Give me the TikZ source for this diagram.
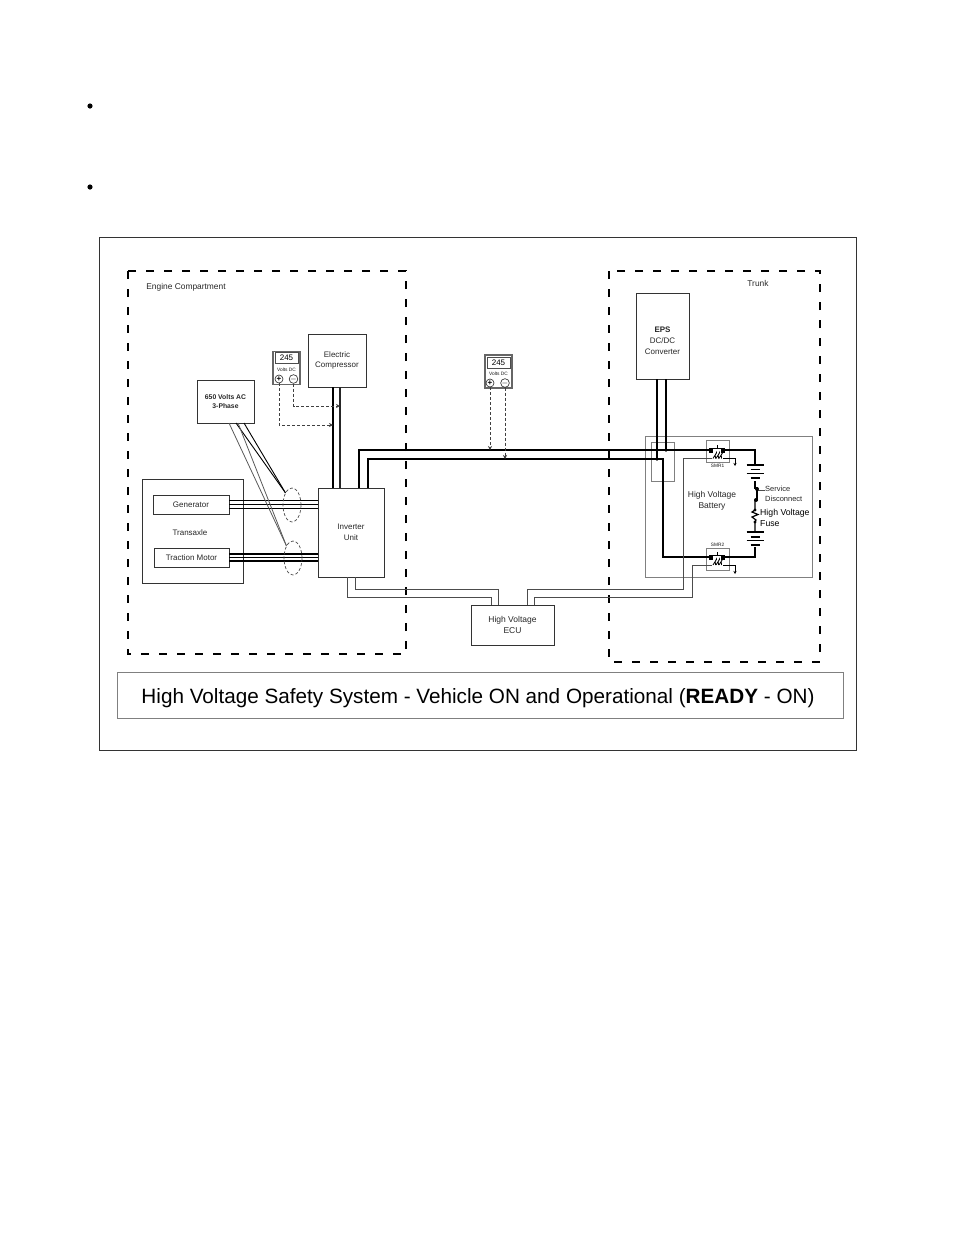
\documentclass[tikz,border=0pt]{standalone}
\usepackage{fontspec}
\setmainfont{Liberation Sans}
\usetikzlibrary{arrows.meta, shapes.geometric}
\tikzset{
    unitbox/.style = {draw = black!80, line width = 0.9pt, inner sep = 0pt, align = center, font = \fontsize{8}{10.8}\selectfont, text = black!85},
    greybox/.style = {draw = black!50, line width = 0.9pt, inner sep = 0pt},
    zone/.style = {draw = black, line width = 2pt, dash pattern = on 8pt off 10pt},
    hvwire/.style = {line width = 2pt, black},
    thinwire/.style = {line width = 0.9pt, black!70},
    probe/.style = {line width = 0.8pt, black!75, densely dashed, -{Stealth[length = 4pt, width = 4pt]}},
    lbl/.style = {inner sep = 0pt, font = \fontsize{8.4}{10}\selectfont, text = black!85},
    tiny/.style = {inner sep = 0pt, font = \fontsize{4.8}{5}\selectfont, text = black!90},
    meterbox/.style = {draw = black!60, line width = 1.2pt, fill = white, inner sep = 0pt, minimum width = 27pt, minimum height = 33pt},
    reading/.style = {draw = black!70, line width = 0.7pt, minimum width = 23pt, minimum height = 11pt, inner sep = 0pt, font = \fontsize{8}{8}\selectfont},
    terminal/.style = {draw = black!85, circle, line width = 0.6pt, minimum size = 8pt, inner sep = 0pt, font = \bfseries\fontsize{8}{8}\selectfont},
    ring/.style = {draw = black!70, densely dashed, line width = 0.7pt, ellipse, minimum width = 18pt, minimum height = 34pt, inner sep = 0pt}
}
\begin{document}
\begin{tikzpicture}[x = 1pt, y = -1pt]
    \useasboundingbox (0, 0) rectangle (954, 1235);
    % bullets
    \fill[black] (90, 106) circle [radius = 2.6];
    \fill[black] (90, 187) circle [radius = 2.6];
    \draw[line width = 0.9pt, black!80] (99, 237) rectangle (856, 750);
    % zones
    \draw[zone] (128, 271) rectangle (406, 654);
    \draw[zone] (609, 271) rectangle (820, 662);
    \node[lbl] (enginelbl) at (186, 287) {Engine Compartment};
    \node[lbl] (trunklbl) at (758, 283) {Trunk};
    % boxes
    \node[unitbox, minimum width = 53pt, minimum height = 86pt] (eps) at (662.5, 336) {};
    \node[lbl, align = center, font = \fontsize{8}{11}\selectfont] (epslbl) at (662.5, 341) {\textbf{EPS}\\DC/DC\\Converter};
    \node[unitbox, minimum width = 58pt, minimum height = 53pt] (compressor) at (337, 360.5) {Electric\\Compressor};
    \node[unitbox, minimum width = 57pt, minimum height = 43pt, font = \bfseries\fontsize{6.8}{9.5}\selectfont] (phase) at (225.5, 401.5) {650 Volts AC\\3-Phase};
    \node[unitbox, minimum width = 101pt, minimum height = 104pt] (transaxle) at (192.5, 531) {};
    \node[lbl, font = \fontsize{8}{10}\selectfont] (transaxlelbl) at (190, 533) {Transaxle};
    \node[unitbox, minimum width = 76pt, minimum height = 19pt] (generator) at (191, 504.5) {Generator};
    \node[unitbox, minimum width = 75pt, minimum height = 19pt] (traction) at (191.5, 557.5) {Traction Motor};
    \node[unitbox, minimum width = 66pt, minimum height = 89pt] (inverter) at (351, 532.5) {Inverter\\Unit};
    \node[unitbox, minimum width = 83pt, minimum height = 40pt, font = \fontsize{8.5}{11}\selectfont] (ecu) at (512.5, 625) {High Voltage\\ECU};
    % battery boxes
    \node[greybox, minimum width = 167pt, minimum height = 141pt] (battery) at (728.5, 506.5) {};
    \node[greybox, minimum width = 23pt, minimum height = 39pt] (junction) at (662.5, 461.5) {};
    \node[greybox, minimum width = 23pt, minimum height = 22pt] (smra) at (717.5, 451) {};
    \node[greybox, minimum width = 23pt, minimum height = 22pt] (smrb) at (717.5, 559) {};
    \node[tiny] (smralbl) at (717.5, 465.5) {SMR1};
    \node[tiny] (smrblbl) at (717.5, 545) {SMR2};
    \node[lbl, align = center, font = \fontsize{8.5}{11.5}\selectfont] (batterylbl) at (712, 501) {High Voltage\\Battery};
    \node[lbl, align = left, anchor = west, font = \fontsize{7.5}{10}\selectfont] (servicelbl) at (765, 494) {Service\\Disconnect};
    \node[lbl, align = left, anchor = west, font = \fontsize{8.7}{10.5}\selectfont, text = black] (fuselbl) at (760, 518) {High Voltage\\Fuse};
    % title
    \node[draw = black!50, line width = 0.9pt, minimum width = 726pt, minimum height = 46pt, inner sep = 0pt, text height = 17pt, text depth = 0pt, font = \fontsize{20.7}{24}\selectfont, text = black] (title) at (480, 695) {High Voltage Safety System - Vehicle ON and Operational (\textbf{READY} - ON)\hspace*{4pt}};
    % named ends of the wires
    \coordinate (compa) at (333, 387);
    \coordinate (compb) at (340, 387);
    \coordinate (inva) at (333, 488);
    \coordinate (invb) at (340, 488);
    \coordinate (busa) at (359, 488);
    \coordinate (busb) at (368, 488);
    \coordinate (epsa) at (657, 379);
    \coordinate (epsb) at (666, 379);
    \coordinate (smraleft) at (711, 450);
    \coordinate (smraright) at (723, 450);
    \coordinate (smrbleft) at (711, 557);
    \coordinate (smrbright) at (723, 557);
    % high voltage wires
    \draw[hvwire] (compa) -- (inva);
    \draw[line width = 1.2pt, black!85] (compb) -- (invb);
    \draw[hvwire, line width = 1.7pt] (busa) -- (359, 450) -- (smraleft);
    \draw[hvwire] (busb) -- (368, 459) -- (663, 459) -- (663, 557) -- (smrbleft);
    \draw[hvwire, line width = 1.7pt] (epsa) -- (657, 459);
    \draw[hvwire, line width = 1.7pt] (epsb) -- (666, 450);
    \fill (657, 459) circle [radius = 1.8];
    \fill (666, 450) circle [radius = 1.8];
    % phase wires, inverter to the motors
    \foreach \d/\w in {4/1.4, 0/1, -4/1.4} {
        \draw[black, line width = \w pt] ([yshift = \d pt]generator.east) -- ([yshift = \d pt]generator.east -| inverter.west);
    }
    \foreach \d/\w in {3.5/1.7, 0/1, -3.5/1.4} {
        \draw[black, line width = \w pt] ([yshift = \d pt]traction.east) -- ([yshift = \d pt]traction.east -| inverter.west);
    }
    \node[ring] (ringa) at (292, 505) {};
    \node[ring] (ringb) at (293, 558) {};
    % pointers from the 650 volt box
    \draw[black, line width = 0.9pt] (236, 423) -- (ringa.north west);
    \draw[black, line width = 0.9pt] (244, 423) -- (ringa.north west);
    \draw[black!65, line width = 0.8pt] (229, 423) -- (ringb.north west);
    \draw[black!65, line width = 0.8pt] (238, 423) -- (ringb.north west);
    % ECU lines
    \draw[thinwire] (347, 577) -- (347, 597) -- (491, 597) -- (491, 605);
    \draw[thinwire] (355, 577) -- (355, 589) -- (498, 589) -- (498, 605);
    \draw[thinwire] (527, 605) -- (527, 589) -- (683, 589) -- (683, 458) -- (712, 458);
    \draw[thinwire] (534, 605) -- (534, 597) -- (692, 597) -- (692, 565) -- (712, 565);
    \draw[thinwire, black, -{Stealth[length = 3pt, width = 3pt]}] (723, 458) -- (735, 458) -- (735, 466);
    \draw[thinwire, black, -{Stealth[length = 3pt, width = 3pt]}] (723, 565) -- (735, 565) -- (735, 574);
    % meters
    \node[meterbox] (metera) at (286.5, 368) {};
    \node[reading] (readinga) at (286.5, 358) {245};
    \node[tiny] (voltsa) at (286.5, 369.5) {Volts DC};
    \node[terminal] (plusa) at (279, 379) {+};
    \node[terminal] (minusa) at (293.5, 379) {\raisebox{0.4pt}{$-$}};
    \node[meterbox] (meterb) at (498.5, 371.5) {};
    \node[reading] (readingb) at (498.5, 362.5) {245};
    \node[tiny] (voltsb) at (498.5, 374) {Volts DC};
    \node[terminal] (plusb) at (490, 383) {+};
    \node[terminal] (minusb) at (505, 383) {\raisebox{0.4pt}{$-$}};
    \draw[probe] (plusa) -- (279, 425) -- (333, 425);
    \draw[probe] (minusa) -- (293.5, 406) -- (340, 406);
    \draw[probe] (plusb) -- (490, 450);
    \draw[probe] (minusb) -- (505, 459);
    % battery string
    \draw[hvwire] (smraright) -- (755, 450) -- (755, 465);
    \foreach \y/\h in {465/8.5, 469.5/4.5, 473.5/8.5, 478/4.5} {
        \draw[black, line width = 1.3pt] (755 - \h, \y) -- (755 + \h, \y);
    }
    \draw[hvwire] (755, 481) -- (755, 488) -- (757, 488) -- (757, 500) -- (755, 500);
    \draw[black, line width = 1.2pt] (755, 500) -- (755, 510) -- (752, 512) -- (758, 514.5) -- (752, 517) -- (756, 520) -- (755, 522) -- (755, 532);
    \draw[black!70, line width = 0.7pt] (758, 490) -- (765, 490);
    \fill (757, 489) circle [radius = 2];
    \fill (756, 500) circle [radius = 2];
    \fill (755, 510) circle [radius = 1.6];
    \fill (755, 522) circle [radius = 1.6];
    \foreach \y/\h in {532/8.5, 537/4.5, 540.5/8.5, 545/4.5} {
        \draw[black, line width = 1.3pt] (755 - \h, \y) -- (755 + \h, \y);
    }
    \draw[black, line width = 1.4pt] (755, 547) -- (755, 557) -- (smrbright);
    % relay contacts and coils
    \foreach \ya in {450, 557} {
        \fill (709, \ya - 2.5) rectangle (713, \ya + 2.5);
        \fill (721, \ya - 2.5) rectangle (725, \ya + 2.5);
        \draw[black, line width = 0.9pt] (711, \ya - 2) -- (723, \ya - 2);
        \draw[black, line width = 0.7pt] (717.5, \ya - 2) -- (717.5, \ya - 5);
    }
    \foreach \ya in {458.5, 565} {
        \foreach \xa in {713, 716, 719} {
            \draw[black, line width = 0.8pt] (\xa, \ya) .. controls (\xa + 1, \ya - 2) and (\xa + 4.5, \ya - 6.5) .. (\xa + 3.5, \ya - 6)
                .. controls (\xa + 2.5, \ya - 5.5) and (\xa + 1.5, \ya - 2) .. (\xa + 2.5, \ya);
        }
    }
\end{tikzpicture}
\end{document}
